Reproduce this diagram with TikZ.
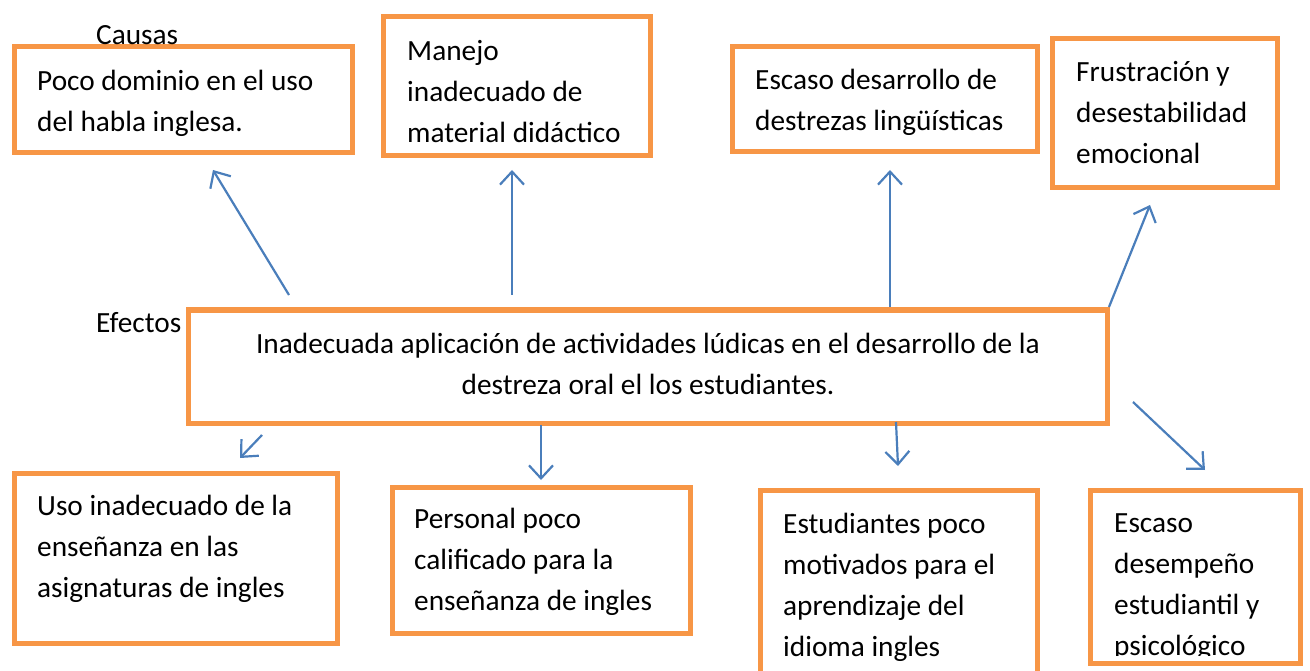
\documentclass[tikz,border=0pt]{standalone}
\usepackage{fontspec}
\setmainfont{Carlito}
\usetikzlibrary{arrows.meta}
\definecolor{boxorange}{HTML}{F79646}
\definecolor{arrowblue}{HTML}{4A7EBB}
\begin{document}
\begin{tikzpicture}[x=1pt,y=-1pt]
			\tikzstyle{caja}=[rectangle,draw=boxorange,line width=5pt,fill=white,inner sep=0pt]
			\tikzstyle{texto}=[anchor=north west,align=left,inner sep=0pt,font=\fontsize{29.3}{41}\selectfont]
			\tikzstyle{rotulo}=[anchor=west,inner sep=0pt,font=\fontsize{29.3}{41}\selectfont]
			\tikzstyle{flecha}=[draw=arrowblue,line width=2.2pt,-{Straight Barb[length=13pt,width=24pt,line width=2.2pt]}]
			\useasboundingbox (0,0) rectangle (1310,671);
			\begin{scope}
			% causas
			\node[caja,minimum width=338,minimum height=106] (b1) at (183,100)   {};
			\node[caja,minimum width=267,minimum height=139] (b2) at (516.5,86.5) {};
			\node[caja,minimum width=305,minimum height=105] (b3) at (884.5,99.5) {};
			\node[caja,minimum width=225,minimum height=149] (b4) at (1164.5,113.5) {};
			% problema
			\node[caja,minimum width=919,minimum height=113] (b5) at (647.5,366.5) {};
			% efectos
			\node[caja,minimum width=323,minimum height=170] (b6) at (175.5,558)  {};
			\node[caja,minimum width=298,minimum height=146] (b7) at (541,560)    {};
			\node[caja,minimum width=277,minimum height=210] (b8) at (898.5,595)  {};
			\node[caja,minimum width=210,minimum height=173] (b9) at (1195,576.5) {};
			\end{scope}
			
			\node[rotulo] (causas)  at (96,35)  {Causas};
			\node[rotulo] (efectos) at (96,323) {Efectos};
			
			\node[texto] (t1) at (37,70)   {Poco dominio en el uso\\del habla inglesa.};
			\node[texto] (t2) at (407,40)  {Manejo\\inadecuado de\\material didáctico};
			\node[texto] (t3) at (755,69)  {Escaso desarrollo de\\destrezas lingüísticas};
			\node[texto] (t4) at (1076,61) {Frustración y\\desestabilidad\\emocional};
			\node[texto,anchor=center,align=center] (t5) at (648,364)
			{Inadecuada aplicación de actividades lúdicas en el desarrollo de la\\destreza oral el los estudiantes.};
			\node[texto] (t6) at (37,495)  {Uso inadecuado de la\\enseñanza en las\\asignaturas de ingles};
			\node[texto] (t7) at (414,508) {Personal poco\\calificado para la\\enseñanza de ingles};
			\node[texto] (t8) at (783,513) {Estudiantes poco\\motivados para el\\aprendizaje del\\idioma ingles};
			\begin{scope}
			\clip (1092,492) rectangle (1298,655);
			\node[texto] (t9) at (1114,513) {Escaso\\desempeño\\estudiantil y\\psicológico};
			\end{scope}
			
			% extremos de las flechas
			\coordinate (c1a) at (289,295);  \coordinate (c1b) at (213,170);
			\coordinate (c2a) at (512,295);  \coordinate (c2b) at (512,170);
			\coordinate (c3a) at (890,307);  \coordinate (c3b) at (890,170);
			\coordinate (c4a) at (1109,307); \coordinate (c4b) at (1150,205);
			\coordinate (e1a) at (262,435);  \coordinate (e1b) at (240,458);
			\coordinate (e2a) at (541,425);  \coordinate (e2b) at (541,480);
			\coordinate (e3a) at (896,422);  \coordinate (e3b) at (898,466);
			\coordinate (e4a) at (1133,402); \coordinate (e4b) at (1205,470);
			
			\path[every edge/.style={flecha}]
			(c1a) edge (c1b)
			(c2a) edge (c2b)
			(c3a) edge (c3b)
			(c4a) edge (c4b)
			
			(e1a) edge (e1b)
			(e2a) edge (e2b)
			(e3a) edge (e3b)
			(e4a) edge (e4b)
			;
		\end{tikzpicture}
\end{document}
